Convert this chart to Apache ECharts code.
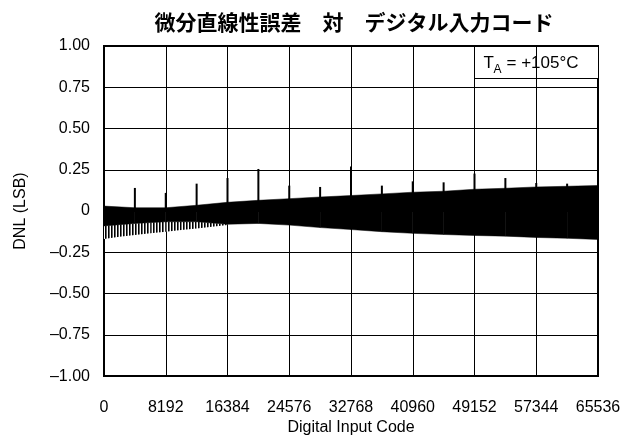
<!DOCTYPE html>
<html>
<head>
<meta charset="utf-8">
<script src="https://cdn.jsdelivr.net/npm/echarts@6/dist/echarts.min.js"></script>
<style>
  html, body { margin: 0; padding: 0; background: #fff; }
  #chart { width: 639px; height: 441px; }
</style>
</head>
<body>
<div id="chart"></div>
<script>
// DNL envelope of the transfer function, sampled every 4096 codes
const envCodes = [0, 4096, 8192, 12288, 16384, 20480, 24576, 28672, 32768,
                  36864, 40960, 45056, 49152, 53248, 57344, 61440, 65536];
const envUpper = [0.030, 0.020, 0.020, 0.035, 0.053, 0.065, 0.075, 0.085, 0.094,
                  0.104, 0.114, 0.120, 0.132, 0.138, 0.146, 0.150, 0.155];
const envLower = [-0.090, -0.075, -0.065, -0.065, -0.080, -0.075, -0.085, -0.100, -0.112,
                  -0.125, -0.135, -0.142, -0.148, -0.152, -0.160, -0.165, -0.172];

// sparse negative excursions in the lower code range
const tailCodes = [0, 2048, 4096, 6144, 8192, 10240, 12288, 14336, 16384];
const tailDense = [-0.090, -0.082, -0.075, -0.070, -0.065, -0.065, -0.065, -0.072, -0.080];
const tailLower = [-0.170, -0.155, -0.145, -0.135, -0.125, -0.115, -0.105, -0.095, -0.085];

// major-carry codes with larger positive DNL
const spikeCodes = [4096, 8192, 12288, 16384, 20480, 24576, 28672, 32768,
                    36864, 40960, 45056, 49152, 53248, 57344, 61440];
const spikeTops  = [0.140, 0.110, 0.166, 0.200, 0.255, 0.154, 0.146, 0.270,
                    0.154, 0.180, 0.174, 0.227, 0.200, 0.170, 0.166];

const xTicks = [0, 8192, 16384, 24576, 32768, 40960, 49152, 57344, 65536];
const yTicks = [-1, -0.75, -0.5, -0.25, 0, 0.25, 0.5, 0.75, 1];

function segments(xs, hi, lo) {
  const rows = [];
  for (let i = 0; i < xs.length - 1; i++) {
    rows.push([xs[i], xs[i + 1], hi[i], hi[i + 1], lo[i], lo[i + 1]]);
  }
  return rows;
}

function bandItem(fill, solid) {
  return function (params, api) {
    const p = [
      api.coord([api.value(0), api.value(2)]),
      api.coord([api.value(1), api.value(3)]),
      api.coord([api.value(1), api.value(5)]),
      api.coord([api.value(0), api.value(4)])
    ];
    return { type: 'polygon', shape: { points: p },
             style: { fill: fill, stroke: solid ? '#000' : null, lineWidth: 0.5 } };
  };
}

// striped fill for the sparse excursion region
const stripe = document.createElement('canvas');
stripe.width = 3; stripe.height = 2;
(function () {
  const c = stripe.getContext('2d');
  c.fillStyle = '#fff'; c.fillRect(0, 0, 3, 2);
  c.fillStyle = '#000'; c.fillRect(0, 0, 1, 2);
  c.fillStyle = '#666'; c.fillRect(1, 0, 1, 2);
})();

const fmtY = v => v === 0 ? '0' : (v < 0 ? '\u2013' + Math.abs(v).toFixed(2) : v.toFixed(2));
const LAT = 'Liberation Sans';

const chart = echarts.init(document.getElementById('chart'), null, { renderer: 'canvas' });
chart.setOption({
  animation: false,
  backgroundColor: '#fff',
  title: {
    text: '微分直線性誤差\u3000対\u3000デジタル入力コード',
    left: 349, top: 7, textAlign: 'center',
    textStyle: { fontFamily: 'Noto Sans CJK JP', fontWeight: 'bold', fontSize: 21, color: '#000' }
  },
  grid: { left: 104, right: 41, top: 46, bottom: 64, show: true, borderColor: '#000', borderWidth: 2, backgroundColor: 'transparent' },
  xAxis: {
    type: 'value', min: 0, max: 65536, interval: 8192,
    name: 'Digital Input Code', nameLocation: 'middle', nameGap: 40,
    nameTextStyle: { fontFamily: LAT, fontSize: 16, color: '#000' },
    axisLine: { show: false }, axisTick: { show: false },
    axisLabel: { margin: 23, fontFamily: LAT, fontSize: 16, color: '#000',
                 customValues: xTicks, formatter: v => String(v) },
    splitLine: { show: true, lineStyle: { color: '#000', width: 1 } }
  },
  yAxis: {
    type: 'value', min: -1, max: 1, interval: 0.25,
    name: 'DNL (LSB)', nameLocation: 'middle', nameGap: 75,
    nameTextStyle: { fontFamily: LAT, fontSize: 16, color: '#000' },
    axisLine: { show: false }, axisTick: { show: false },
    axisLabel: { margin: 14, fontFamily: LAT, fontSize: 16, color: '#000', formatter: fmtY },
    splitLine: { show: true, lineStyle: { color: '#000', width: 1 } }
  },
  series: [
    {
      type: 'custom', name: 'tail',
      data: segments(tailCodes, tailDense, tailLower),
      encode: { x: [0, 1], y: [2, 3, 4, 5] },
      renderItem: bandItem({ image: stripe, repeat: 'repeat' }, false),
      z: 3
    },
    {
      type: 'custom', name: 'band',
      data: segments(envCodes, envUpper, envLower),
      encode: { x: [0, 1], y: [2, 3, 4, 5] },
      renderItem: bandItem('#000', true),
      z: 4
    },
    {
      type: 'custom', name: 'spikes',
      data: spikeCodes.map((c, i) => [c, spikeTops[i]]),
      encode: { x: 0, y: 1 },
      renderItem: function (params, api) {
        const a = api.coord([api.value(0), 0]);
        const b = api.coord([api.value(0), api.value(1)]);
        return { type: 'line', shape: { x1: a[0], y1: a[1], x2: b[0], y2: b[1] },
                 style: { stroke: '#000', lineWidth: 2 } };
      },
      z: 5
    }
  ],
  graphic: [
    {
      type: 'group', left: 474, top: 46, z: 100,
      children: [
        { type: 'rect', shape: { x: 0, y: 0, width: 124, height: 32 }, style: { fill: '#fff', stroke: '#000', lineWidth: 1 } },
        { type: 'text', x: 9, y: 25, style: { text: 'T', fontFamily: LAT, fontSize: 17, fill: '#000', textVerticalAlign: 'bottom' } },
        { type: 'text', x: 19, y: 29, style: { text: 'A', fontFamily: LAT, fontSize: 12, fill: '#000', textVerticalAlign: 'bottom' } },
        { type: 'text', x: 32, y: 25, style: { text: '= +105°C', fontFamily: LAT, fontSize: 17, fill: '#000', textVerticalAlign: 'bottom' } }
      ]
    }
  ]
});
</script>
</body>
</html>
